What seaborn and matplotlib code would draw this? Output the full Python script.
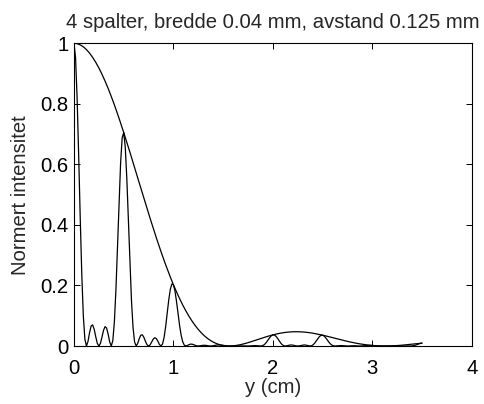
import numpy as np
import pandas as pd
import matplotlib
matplotlib.use("Agg")
import matplotlib.pyplot as plt
import seaborn as sns

# sampling positions along the screen (cm), step 1/64 cm from 0 to 3.5
y_cm = np.linspace(0.0, 3.5, 225)

# total normalised intensity (4 slits)
intensity = [
    1.0000, 0.9524, 0.8200, 0.6312, 0.4246, 0.2381, 0.1000, 0.0224,
    0.0000, 0.0149, 0.0437, 0.0659, 0.0698, 0.0551, 0.0305, 0.0086,
    0.0000, 0.0084, 0.0292, 0.0517, 0.0641, 0.0592, 0.0385, 0.0128,
    0.0000, 0.0184, 0.0806, 0.1877, 0.3275, 0.4762, 0.6050, 0.6871,
    0.7054, 0.6567, 0.5527, 0.4157, 0.2732, 0.1497, 0.0614, 0.0134,
    0.0000, 0.0085, 0.0244, 0.0358, 0.0370, 0.0284, 0.0153, 0.0042,
    0.0000, 0.0039, 0.0132, 0.0227, 0.0273, 0.0245, 0.0155, 0.0050,
    0.0000, 0.0068, 0.0286, 0.0644, 0.1087, 0.1526, 0.1871, 0.2049,
    0.2025, 0.1814, 0.1467, 0.1059, 0.0667, 0.0350, 0.0137, 0.0029,
    0.0000, 0.0016, 0.0044, 0.0062, 0.0060, 0.0044, 0.0022, 0.0006,
    0.0000, 0.0005, 0.0014, 0.0022, 0.0024, 0.0020, 0.0011, 0.0003,
    0.0000, 0.0003, 0.0012, 0.0023, 0.0032, 0.0035, 0.0033, 0.0026,
    0.0017, 0.0009, 0.0003, 0.0001, 0.0000, 0.0000, 0.0000, 0.0000,
    0.0000, 0.0000, 0.0001, 0.0003, 0.0004, 0.0004, 0.0003, 0.0001,
    0.0000, 0.0001, 0.0005, 0.0009, 0.0013, 0.0013, 0.0009, 0.0004,
    0.0000, 0.0006, 0.0028, 0.0070, 0.0132, 0.0205, 0.0278, 0.0337,
    0.0367, 0.0362, 0.0322, 0.0256, 0.0177, 0.0102, 0.0044, 0.0010,
    0.0000, 0.0007, 0.0021, 0.0032, 0.0034, 0.0027, 0.0015, 0.0004,
    0.0000, 0.0004, 0.0015, 0.0027, 0.0034, 0.0031, 0.0020, 0.0007,
    0.0000, 0.0010, 0.0043, 0.0099, 0.0171, 0.0248, 0.0313, 0.0352,
    0.0358, 0.0330, 0.0274, 0.0203, 0.0132, 0.0071, 0.0029, 0.0006,
    0.0000, 0.0004, 0.0010, 0.0015, 0.0015, 0.0011, 0.0006, 0.0002,
    0.0000, 0.0001, 0.0004, 0.0007, 0.0008, 0.0007, 0.0004, 0.0001,
    0.0000, 0.0001, 0.0005, 0.0011, 0.0017, 0.0021, 0.0022, 0.0021,
    0.0017, 0.0012, 0.0008, 0.0004, 0.0002, 0.0001, 0.0000, 0.0000,
    0.0000, 0.0000, 0.0000, 0.0000, 0.0000, 0.0000, 0.0000, 0.0000,
    0.0000, 0.0000, 0.0001, 0.0002, 0.0002, 0.0002, 0.0002, 0.0001,
    0.0000, 0.0001, 0.0006, 0.0016, 0.0031, 0.0049, 0.0069, 0.0085,
    0.0095,
]

# single-slit envelope
envelope = [
    1.0000, 0.9997, 0.9987, 0.9970, 0.9948, 0.9918, 0.9882, 0.9840,
    0.9791, 0.9736, 0.9675, 0.9608, 0.9535, 0.9456, 0.9372, 0.9281,
    0.9186, 0.9085, 0.8979, 0.8867, 0.8751, 0.8631, 0.8506, 0.8376,
    0.8243, 0.8106, 0.7965, 0.7820, 0.7673, 0.7522, 0.7368, 0.7212,
    0.7054, 0.6893, 0.6731, 0.6566, 0.6401, 0.6234, 0.6066, 0.5897,
    0.5728, 0.5558, 0.5388, 0.5219, 0.5050, 0.4881, 0.4713, 0.4546,
    0.4380, 0.4216, 0.4053, 0.3892, 0.3732, 0.3575, 0.3420, 0.3268,
    0.3117, 0.2970, 0.2826, 0.2684, 0.2546, 0.2411, 0.2279, 0.2150,
    0.2025, 0.1904, 0.1786, 0.1672, 0.1562, 0.1456, 0.1353, 0.1255,
    0.1160, 0.1070, 0.0983, 0.0901, 0.0822, 0.0747, 0.0677, 0.0610,
    0.0547, 0.0488, 0.0433, 0.0381, 0.0333, 0.0289, 0.0248, 0.0211,
    0.0177, 0.0147, 0.0119, 0.0095, 0.0074, 0.0056, 0.0040, 0.0028,
    0.0017, 0.0010, 0.0004, 0.0001, 0.0000, 0.0001, 0.0004, 0.0009,
    0.0015, 0.0023, 0.0032, 0.0042, 0.0054, 0.0066, 0.0080, 0.0094,
    0.0110, 0.0125, 0.0141, 0.0158, 0.0175, 0.0192, 0.0209, 0.0226,
    0.0243, 0.0260, 0.0277, 0.0293, 0.0309, 0.0324, 0.0339, 0.0354,
    0.0367, 0.0380, 0.0392, 0.0404, 0.0415, 0.0424, 0.0433, 0.0441,
    0.0449, 0.0455, 0.0460, 0.0464, 0.0468, 0.0470, 0.0471, 0.0472,
    0.0472, 0.0470, 0.0468, 0.0465, 0.0461, 0.0456, 0.0450, 0.0444,
    0.0437, 0.0429, 0.0421, 0.0411, 0.0402, 0.0392, 0.0381, 0.0370,
    0.0358, 0.0346, 0.0334, 0.0321, 0.0308, 0.0296, 0.0282, 0.0269,
    0.0256, 0.0243, 0.0230, 0.0216, 0.0203, 0.0191, 0.0178, 0.0165,
    0.0153, 0.0141, 0.0130, 0.0119, 0.0108, 0.0098, 0.0088, 0.0078,
    0.0070, 0.0061, 0.0053, 0.0046, 0.0039, 0.0033, 0.0027, 0.0022,
    0.0017, 0.0013, 0.0010, 0.0007, 0.0004, 0.0002, 0.0001, 0.0000,
    0.0000, 0.0000, 0.0001, 0.0002, 0.0004, 0.0006, 0.0008, 0.0011,
    0.0015, 0.0018, 0.0022, 0.0026, 0.0031, 0.0035, 0.0040, 0.0045,
    0.0050, 0.0056, 0.0061, 0.0067, 0.0072, 0.0078, 0.0084, 0.0089,
    0.0095,
]

x_ticks = [0, 1, 2, 3, 4]
x_tick_labels = ["0", "1", "2", "3", "4"]
y_ticks = [0, 0.2, 0.4, 0.6, 0.8, 1.0]
y_tick_labels = ["0", "0.2", "0.4", "0.6", "0.8", "1"]

title = "4 spalter, bredde 0.04 mm, avstand 0.125 mm"
xlabel = "y (cm)"
ylabel = "Normert intensitet"

sns.set_style("ticks")
plt.rcParams["font.family"] = ["Liberation Sans", "DejaVu Sans"]
FS = 14.6
plt.rcParams["font.size"] = FS

df = pd.DataFrame({"y": y_cm, "I": intensity, "E": envelope})

fig = plt.figure(figsize=(4.84, 4.04), dpi=100)
W, H = 484, 404
left, right, top, bottom = 74, 471.7, 43.3, 346
ax = fig.add_axes([left / W, 1 - bottom / H, (right - left) / W, (bottom - top) / H])

sns.lineplot(data=df, x="y", y="E", ax=ax, color="black", linewidth=0.9, sort=False)
sns.lineplot(data=df, x="y", y="I", ax=ax, color="black", linewidth=0.9, sort=False)

ax.set_xlim(0, 4)
ax.set_ylim(0, 1)
ax.set_xticks(x_ticks)
ax.set_xticklabels(x_tick_labels)
ax.set_yticks(y_ticks)
ax.set_yticklabels(y_tick_labels)

for s in ax.spines.values():
    s.set_visible(True)
    s.set_color("black")
    s.set_linewidth(0.8)

ax.tick_params(direction="in", length=4, width=0.7, top=True, right=True,
               labelsize=FS, colors="black")
ax.tick_params(axis="x", pad=9)
ax.tick_params(axis="y", pad=4)

ax.set_title(title, fontsize=FS, pad=11)
ax.set_xlabel(xlabel, fontsize=FS)
ax.set_ylabel(ylabel, fontsize=FS)
ax.xaxis.set_label_coords(0.5, -0.107)
ax.yaxis.set_label_coords(-0.11, 0.5)

fig.savefig("out.png", dpi=100, facecolor="white")
